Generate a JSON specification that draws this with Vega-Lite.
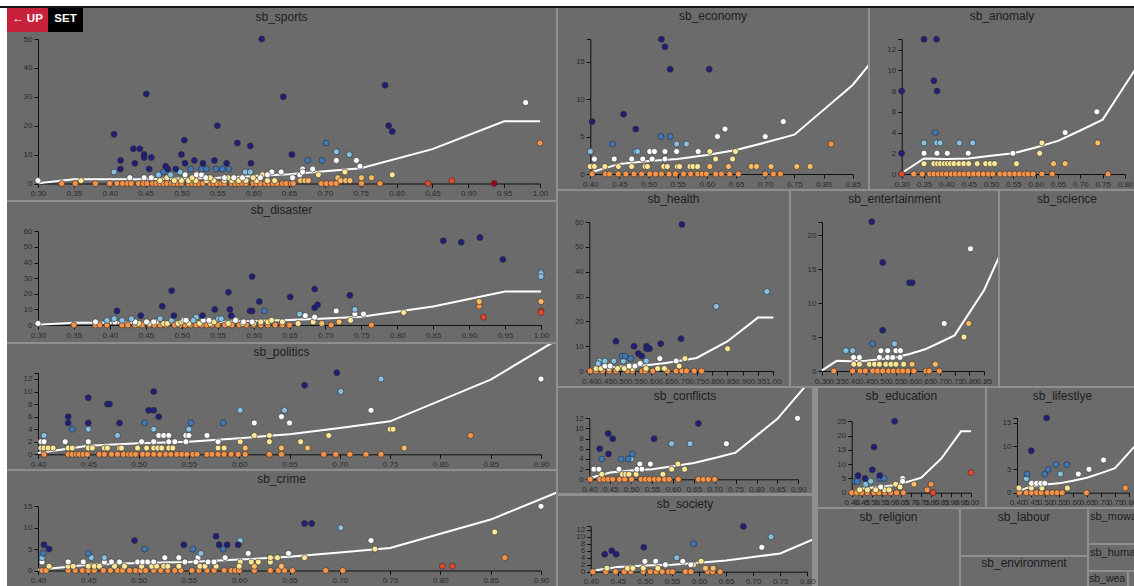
{
"$schema": "https://vega.github.io/schema/vega-lite/v6.json",
"background": "#8f8f8f",
"padding": 0,
"config": {
 "view": {"stroke": null, "fill": "#6b6b6b"},
 "axis": {"grid": false, "title": null, "domainColor": "#111111", "tickColor": "#111111", "labelColor": "#2b2b2b", "labelFontSize": 8, "labelFont": "Liberation Sans", "tickSize": 4, "labelPadding": 2, "labelOverlap": false, "labelFlush": false, "labelBound": false, "domainWidth": 1, "tickWidth": 1},
 "title": {"font": "Liberation Sans", "fontSize": 12, "fontWeight": "normal", "color": "#1e1e1e", "anchor": "middle", "frame": "group", "offset": -15, "orient": "top"},
 "concat": {"spacing": 2}
},
"datasets": {
 "line30": [{"x":0.3,"y":0.1},{"x":0.35,"y":1.5},{"x":0.4,"y":1.45},{"x":0.45,"y":1.5},{"x":0.5,"y":1.75},{"x":0.55,"y":2.0},{"x":0.6,"y":2.55},{"x":0.65,"y":3.2},{"x":0.7,"y":4.2},{"x":0.75,"y":5.25},{"x":0.85,"y":11.9},{"x":0.95,"y":21.5},{"x":1.0,"y":21.5}],
 "line40": [{"x":0.4,"y":0.2},{"x":0.45,"y":1.35},{"x":0.5,"y":1.75},{"x":0.55,"y":2.0},{"x":0.6,"y":2.55},{"x":0.65,"y":3.2},{"x":0.7,"y":4.2},{"x":0.75,"y":5.25},{"x":0.85,"y":11.9},{"x":0.95,"y":21.5},{"x":1.0,"y":21.5}],
 "sports": [
  {"x":0.333,"y":0,"c":"r"},{"x":0.352,"y":0,"c":"r"},{"x":0.38,"y":0,"c":"r"},{"x":0.4,"y":0,"c":"r"},{"x":0.41,"y":0,"c":"r"},{"x":0.418,"y":0,"c":"r"},{"x":0.425,"y":0,"c":"r"},{"x":0.43,"y":0,"c":"r"},{"x":0.44,"y":0,"c":"r"},{"x":0.447,"y":0,"c":"r"},{"x":0.452,"y":0,"c":"r"},{"x":0.46,"y":0,"c":"r"},{"x":0.465,"y":0,"c":"r"},{"x":0.47,"y":0,"c":"r"},{"x":0.475,"y":0,"c":"r"},{"x":0.48,"y":0,"c":"r"},{"x":0.486,"y":0,"c":"r"},{"x":0.49,"y":0,"c":"r"},{"x":0.495,"y":0,"c":"r"},{"x":0.5,"y":0,"c":"r"},{"x":0.51,"y":0,"c":"r"},{"x":0.515,"y":0,"c":"r"},{"x":0.52,"y":0,"c":"r"},{"x":0.525,"y":0,"c":"r"},{"x":0.53,"y":0,"c":"r"},{"x":0.54,"y":0,"c":"r"},{"x":0.545,"y":0,"c":"r"},{"x":0.55,"y":0,"c":"r"},{"x":0.556,"y":0,"c":"r"},{"x":0.56,"y":0,"c":"r"},{"x":0.57,"y":0,"c":"r"},{"x":0.575,"y":0,"c":"r"},{"x":0.58,"y":0,"c":"r"},{"x":0.585,"y":0,"c":"r"},{"x":0.59,"y":0,"c":"r"},{"x":0.6,"y":0,"c":"r"},{"x":0.605,"y":0,"c":"r"},{"x":0.61,"y":0,"c":"r"},{"x":0.617,"y":0,"c":"r"},{"x":0.622,"y":0,"c":"r"},{"x":0.628,"y":0,"c":"r"},{"x":0.633,"y":0,"c":"r"},{"x":0.641,"y":0,"c":"r"},{"x":0.646,"y":0,"c":"r"},{"x":0.653,"y":0,"c":"r"},{"x":0.656,"y":0,"c":"r"},{"x":0.695,"y":0,"c":"r"},{"x":0.702,"y":0,"c":"r"},{"x":0.709,"y":0,"c":"r"},{"x":0.716,"y":0,"c":"r"},{"x":0.751,"y":0,"c":"r"},{"x":0.777,"y":0,"c":"r"},
  {"x":0.718,"y":2,"c":"o"},{"x":0.751,"y":2,"c":"o"},{"x":0.765,"y":2,"c":"o"},{"x":0.666,"y":1,"c":"o"},{"x":0.672,"y":1,"c":"o"},{"x":0.677,"y":1,"c":"o"},{"x":0.722,"y":1,"c":"o"},{"x":0.729,"y":1,"c":"o"},{"x":0.735,"y":1,"c":"o"},
  {"x":0.36,"y":1,"c":"y"},{"x":0.47,"y":1,"c":"y"},{"x":0.49,"y":1,"c":"y"},{"x":0.5,"y":1,"c":"y"},{"x":0.51,"y":1,"c":"y"},{"x":0.52,"y":1,"c":"y"},{"x":0.535,"y":1,"c":"y"},{"x":0.545,"y":1,"c":"y"},{"x":0.56,"y":1,"c":"y"},{"x":0.57,"y":1,"c":"y"},{"x":0.58,"y":1,"c":"y"},{"x":0.59,"y":1,"c":"y"},{"x":0.605,"y":1,"c":"y"},{"x":0.62,"y":1,"c":"y"},{"x":0.63,"y":1,"c":"y"},{"x":0.48,"y":2,"c":"y"},{"x":0.515,"y":2,"c":"y"},{"x":0.54,"y":2,"c":"y"},{"x":0.565,"y":2,"c":"y"},{"x":0.6,"y":2,"c":"y"},{"x":0.613,"y":3,"c":"y"},{"x":0.691,"y":3,"c":"y"},{"x":0.728,"y":4,"c":"y"},{"x":0.794,"y":3,"c":"y"},
  {"x":0.3,"y":1,"c":"w"},{"x":0.428,"y":2,"c":"w"},{"x":0.448,"y":2,"c":"w"},{"x":0.458,"y":2,"c":"w"},{"x":0.505,"y":3,"c":"w"},{"x":0.521,"y":3,"c":"w"},{"x":0.528,"y":3,"c":"w"},{"x":0.534,"y":2,"c":"w"},{"x":0.573,"y":2,"c":"w"},{"x":0.626,"y":4,"c":"w"},{"x":0.56,"y":2,"c":"w"},{"x":0.585,"y":2,"c":"w"},{"x":0.61,"y":2,"c":"w"},{"x":0.62,"y":3,"c":"w"},{"x":0.655,"y":2,"c":"w"},{"x":0.665,"y":3,"c":"w"},{"x":0.716,"y":8,"c":"w"},{"x":0.744,"y":8,"c":"w"},{"x":0.749,"y":6,"c":"w"},{"x":0.669,"y":5,"c":"w"},{"x":0.683,"y":5,"c":"w"},{"x":0.669,"y":4,"c":"w"},{"x":0.639,"y":4,"c":"w"},{"x":0.98,"y":28,"c":"w"},
  {"x":0.406,"y":4,"c":"l"},{"x":0.468,"y":3,"c":"l"},{"x":0.485,"y":3,"c":"l"},{"x":0.498,"y":4,"c":"l"},{"x":0.589,"y":4,"c":"l"},{"x":0.596,"y":4,"c":"l"},{"x":0.716,"y":11,"c":"l"},{"x":0.734,"y":10,"c":"l"},
  {"x":0.475,"y":4,"c":"b"},{"x":0.513,"y":5,"c":"b"},{"x":0.528,"y":5,"c":"b"},{"x":0.535,"y":5,"c":"b"},{"x":0.548,"y":5,"c":"b"},{"x":0.557,"y":5,"c":"b"},{"x":0.566,"y":5,"c":"b"},{"x":0.676,"y":8,"c":"b"},{"x":0.702,"y":14,"c":"b"},{"x":0.696,"y":8,"c":"b"},
  {"x":0.406,"y":17,"c":"n"},{"x":0.415,"y":8,"c":"n"},{"x":0.415,"y":5,"c":"n"},{"x":0.433,"y":12,"c":"n"},{"x":0.442,"y":12,"c":"n"},{"x":0.435,"y":7,"c":"n"},{"x":0.448,"y":10,"c":"n"},{"x":0.448,"y":9,"c":"n"},{"x":0.451,"y":31,"c":"n"},{"x":0.458,"y":9,"c":"n"},{"x":0.455,"y":5,"c":"n"},{"x":0.478,"y":6,"c":"n"},{"x":0.481,"y":5,"c":"n"},{"x":0.492,"y":5,"c":"n"},{"x":0.5,"y":10,"c":"n"},{"x":0.504,"y":15,"c":"n"},{"x":0.505,"y":7,"c":"n"},{"x":0.518,"y":8,"c":"n"},{"x":0.53,"y":7,"c":"n"},{"x":0.546,"y":8,"c":"n"},{"x":0.55,"y":20,"c":"n"},{"x":0.563,"y":7,"c":"n"},{"x":0.578,"y":14,"c":"n"},{"x":0.596,"y":13,"c":"n"},{"x":0.597,"y":7,"c":"n"},{"x":0.612,"y":50,"c":"n"},{"x":0.642,"y":30,"c":"n"},{"x":0.654,"y":10,"c":"n"},{"x":0.784,"y":34,"c":"n"},{"x":0.789,"y":20,"c":"n"},{"x":0.794,"y":18,"c":"n"},
  {"x":1.0,"y":14,"c":"r"},{"x":0.844,"y":0,"c":"R"},{"x":0.877,"y":1,"c":"R"},{"x":0.936,"y":0,"c":"D"}
 ],
 "disaster": [
  {"x":0.35,"y":0,"c":"r"},{"x":0.38,"y":0,"c":"r"},{"x":0.386,"y":0,"c":"r"},{"x":0.396,"y":0,"c":"r"},{"x":0.417,"y":0,"c":"r"},{"x":0.425,"y":0,"c":"r"},{"x":0.435,"y":0,"c":"r"},{"x":0.445,"y":0,"c":"r"},{"x":0.455,"y":0,"c":"r"},{"x":0.462,"y":0,"c":"r"},{"x":0.47,"y":0,"c":"r"},{"x":0.478,"y":0,"c":"r"},{"x":0.49,"y":0,"c":"r"},{"x":0.498,"y":0,"c":"r"},{"x":0.505,"y":0,"c":"r"},{"x":0.512,"y":0,"c":"r"},{"x":0.52,"y":0,"c":"r"},{"x":0.528,"y":0,"c":"r"},{"x":0.535,"y":0,"c":"r"},{"x":0.542,"y":0,"c":"r"},{"x":0.55,"y":0,"c":"r"},{"x":0.56,"y":0,"c":"r"},{"x":0.57,"y":0,"c":"r"},{"x":0.58,"y":0,"c":"r"},{"x":0.59,"y":0,"c":"r"},{"x":0.6,"y":0,"c":"r"},{"x":0.61,"y":0,"c":"r"},{"x":0.62,"y":0,"c":"r"},{"x":0.63,"y":0,"c":"r"},{"x":0.64,"y":0,"c":"r"},{"x":0.65,"y":0,"c":"r"},{"x":0.708,"y":0,"c":"r"},{"x":0.764,"y":0,"c":"r"},{"x":0.914,"y":12,"c":"r"},
  {"x":1.0,"y":15,"c":"o"},{"x":0.914,"y":15,"c":"o"},{"x":0.695,"y":1,"c":"o"},{"x":0.719,"y":2,"c":"o"},
  {"x":0.809,"y":8,"c":"y"},{"x":0.683,"y":2,"c":"y"},{"x":0.735,"y":3,"c":"y"},{"x":0.44,"y":1,"c":"y"},{"x":0.455,"y":1,"c":"y"},{"x":0.465,"y":2,"c":"y"},{"x":0.475,"y":1,"c":"y"},{"x":0.48,"y":1,"c":"y"},{"x":0.495,"y":1,"c":"y"},{"x":0.5,"y":2,"c":"y"},{"x":0.51,"y":1,"c":"y"},{"x":0.525,"y":1,"c":"y"},{"x":0.54,"y":1,"c":"y"},{"x":0.545,"y":2,"c":"y"},{"x":0.565,"y":1,"c":"y"},{"x":0.585,"y":1,"c":"y"},{"x":0.6,"y":1,"c":"y"},{"x":0.61,"y":2,"c":"y"},{"x":0.62,"y":2,"c":"y"},{"x":0.625,"y":3,"c":"y"},{"x":0.64,"y":2,"c":"y"},{"x":0.662,"y":1,"c":"y"},
  {"x":0.715,"y":9,"c":"w"},{"x":0.741,"y":7,"c":"w"},{"x":0.753,"y":7,"c":"w"},{"x":0.672,"y":6,"c":"w"},{"x":0.685,"y":5,"c":"w"},{"x":0.3,"y":1,"c":"w"},{"x":0.38,"y":2,"c":"w"},{"x":0.407,"y":2,"c":"w"},{"x":0.435,"y":2,"c":"w"},{"x":0.451,"y":2,"c":"w"},{"x":0.461,"y":2,"c":"w"},{"x":0.503,"y":3,"c":"w"},{"x":0.506,"y":3,"c":"w"},{"x":0.53,"y":3,"c":"w"},{"x":0.538,"y":3,"c":"w"},{"x":0.575,"y":3,"c":"w"},{"x":0.598,"y":2,"c":"w"},{"x":0.586,"y":2,"c":"w"},
  {"x":1.0,"y":34,"c":"l"},{"x":1.0,"y":33,"c":"l"},{"x":1.0,"y":31,"c":"l"},{"x":0.741,"y":10,"c":"l"},{"x":0.664,"y":7,"c":"l"},{"x":0.52,"y":5,"c":"l"},{"x":0.551,"y":4,"c":"l"},{"x":0.516,"y":3,"c":"l"},{"x":0.396,"y":3,"c":"l"},{"x":0.406,"y":4,"c":"l"},{"x":0.417,"y":3,"c":"l"},{"x":0.43,"y":4,"c":"l"},{"x":0.47,"y":4,"c":"l"},{"x":0.486,"y":3,"c":"l"},{"x":0.555,"y":4,"c":"l"},
  {"x":0.615,"y":9,"c":"b"},
  {"x":0.41,"y":9,"c":"n"},{"x":0.443,"y":6,"c":"n"},{"x":0.473,"y":12,"c":"n"},{"x":0.486,"y":22,"c":"n"},{"x":0.489,"y":6,"c":"n"},{"x":0.529,"y":6,"c":"n"},{"x":0.546,"y":10,"c":"n"},{"x":0.565,"y":21,"c":"n"},{"x":0.567,"y":10,"c":"n"},{"x":0.569,"y":6,"c":"n"},{"x":0.595,"y":9,"c":"n"},{"x":0.598,"y":9,"c":"n"},{"x":0.598,"y":31,"c":"n"},{"x":0.608,"y":15,"c":"n"},{"x":0.651,"y":18,"c":"n"},{"x":0.685,"y":23,"c":"n"},{"x":0.685,"y":11,"c":"n"},{"x":0.689,"y":13,"c":"n"},{"x":0.734,"y":19,"c":"n"},{"x":0.864,"y":54,"c":"n"},{"x":0.889,"y":53,"c":"n"},{"x":0.915,"y":56,"c":"n"},{"x":0.947,"y":42,"c":"n"},
  {"x":1.0,"y":9,"c":"R"},{"x":1.0,"y":8,"c":"R"},{"x":0.92,"y":5,"c":"R"}
 ],
 "politics": [
  {"x":0.406,"y":0,"c":"r"},{"x":0.43,"y":0,"c":"r"},{"x":0.434,"y":0,"c":"r"},{"x":0.438,"y":0,"c":"r"},{"x":0.441,"y":0,"c":"r"},{"x":0.445,"y":0,"c":"r"},{"x":0.449,"y":0,"c":"r"},{"x":0.461,"y":0,"c":"r"},{"x":0.466,"y":0,"c":"r"},{"x":0.473,"y":0,"c":"r"},{"x":0.479,"y":0,"c":"r"},{"x":0.485,"y":0,"c":"r"},{"x":0.49,"y":0,"c":"r"},{"x":0.493,"y":0,"c":"r"},{"x":0.497,"y":0,"c":"r"},{"x":0.504,"y":0,"c":"r"},{"x":0.509,"y":0,"c":"r"},{"x":0.515,"y":0,"c":"r"},{"x":0.521,"y":0,"c":"r"},{"x":0.527,"y":0,"c":"r"},{"x":0.532,"y":0,"c":"r"},{"x":0.538,"y":0,"c":"r"},{"x":0.543,"y":0,"c":"r"},{"x":0.548,"y":0,"c":"r"},{"x":0.554,"y":0,"c":"r"},{"x":0.558,"y":0,"c":"r"},{"x":0.568,"y":0,"c":"r"},{"x":0.573,"y":0,"c":"r"},{"x":0.579,"y":0,"c":"r"},{"x":0.585,"y":0,"c":"r"},{"x":0.592,"y":0,"c":"r"},{"x":0.599,"y":0,"c":"r"},{"x":0.606,"y":0,"c":"r"},{"x":0.63,"y":0,"c":"r"},{"x":0.642,"y":0,"c":"r"},{"x":0.684,"y":0,"c":"r"},{"x":0.696,"y":0,"c":"r"},{"x":0.71,"y":0,"c":"r"},{"x":0.726,"y":0,"c":"r"},{"x":0.741,"y":0,"c":"r"},{"x":0.83,"y":3,"c":"r"},
  {"x":0.606,"y":1,"c":"o"},{"x":0.642,"y":1,"c":"o"},{"x":0.668,"y":1,"c":"o"},{"x":0.764,"y":1,"c":"o"},
  {"x":0.403,"y":1,"c":"y"},{"x":0.406,"y":1,"c":"y"},{"x":0.41,"y":1,"c":"y"},{"x":0.415,"y":1,"c":"y"},{"x":0.43,"y":1,"c":"y"},{"x":0.434,"y":1,"c":"y"},{"x":0.45,"y":1,"c":"y"},{"x":0.454,"y":1,"c":"y"},{"x":0.466,"y":1,"c":"y"},{"x":0.469,"y":1,"c":"y"},{"x":0.481,"y":1,"c":"y"},{"x":0.483,"y":1,"c":"y"},{"x":0.499,"y":1,"c":"y"},{"x":0.508,"y":1,"c":"y"},{"x":0.515,"y":1,"c":"y"},{"x":0.519,"y":1,"c":"y"},{"x":0.523,"y":1,"c":"y"},{"x":0.53,"y":1,"c":"y"},{"x":0.534,"y":1,"c":"y"},{"x":0.579,"y":1,"c":"y"},{"x":0.585,"y":1,"c":"y"},{"x":0.601,"y":2,"c":"y"},{"x":0.615,"y":3,"c":"y"},{"x":0.63,"y":3,"c":"y"},{"x":0.63,"y":2,"c":"y"},{"x":0.661,"y":2,"c":"y"},{"x":0.689,"y":3,"c":"y"},{"x":0.75,"y":4,"c":"y"},{"x":0.753,"y":4,"c":"y"},
  {"x":0.403,"y":2,"c":"w"},{"x":0.406,"y":2,"c":"w"},{"x":0.427,"y":2,"c":"w"},{"x":0.45,"y":2,"c":"w"},{"x":0.503,"y":2,"c":"w"},{"x":0.515,"y":2,"c":"w"},{"x":0.52,"y":3,"c":"w"},{"x":0.525,"y":3,"c":"w"},{"x":0.53,"y":3,"c":"w"},{"x":0.53,"y":2,"c":"w"},{"x":0.536,"y":2,"c":"w"},{"x":0.547,"y":2,"c":"w"},{"x":0.547,"y":3,"c":"w"},{"x":0.55,"y":3,"c":"w"},{"x":0.568,"y":3,"c":"w"},{"x":0.579,"y":2,"c":"w"},{"x":0.615,"y":5,"c":"w"},{"x":0.642,"y":6,"c":"w"},{"x":0.65,"y":5,"c":"w"},{"x":0.731,"y":7,"c":"w"},{"x":0.9,"y":12,"c":"w"},
  {"x":0.406,"y":3,"c":"l"},{"x":0.45,"y":4,"c":"l"},{"x":0.479,"y":3,"c":"l"},{"x":0.515,"y":4,"c":"l"},{"x":0.55,"y":4,"c":"l"},{"x":0.601,"y":7,"c":"l"},{"x":0.645,"y":7,"c":"l"},{"x":0.701,"y":10,"c":"l"},{"x":0.741,"y":12,"c":"l"},
  {"x":0.434,"y":4,"c":"b"},{"x":0.506,"y":5,"c":"b"},{"x":0.552,"y":5,"c":"b"},{"x":0.584,"y":5,"c":"b"},
  {"x":0.43,"y":6,"c":"n"},{"x":0.43,"y":5,"c":"n"},{"x":0.45,"y":9,"c":"n"},{"x":0.45,"y":5,"c":"n"},{"x":0.469,"y":8,"c":"n"},{"x":0.471,"y":8,"c":"n"},{"x":0.481,"y":5,"c":"n"},{"x":0.51,"y":7,"c":"n"},{"x":0.515,"y":7,"c":"n"},{"x":0.515,"y":10,"c":"n"},{"x":0.52,"y":6,"c":"n"},{"x":0.665,"y":11,"c":"n"},{"x":0.697,"y":13,"c":"n"}
 ],
 "crime": [
  {"x":0.404,"y":0,"c":"r"},{"x":0.408,"y":0,"c":"r"},{"x":0.43,"y":0,"c":"r"},{"x":0.437,"y":0,"c":"r"},{"x":0.444,"y":0,"c":"r"},{"x":0.45,"y":0,"c":"r"},{"x":0.456,"y":0,"c":"r"},{"x":0.465,"y":0,"c":"r"},{"x":0.472,"y":0,"c":"r"},{"x":0.479,"y":0,"c":"r"},{"x":0.484,"y":0,"c":"r"},{"x":0.491,"y":0,"c":"r"},{"x":0.497,"y":0,"c":"r"},{"x":0.502,"y":0,"c":"r"},{"x":0.507,"y":0,"c":"r"},{"x":0.515,"y":0,"c":"r"},{"x":0.522,"y":0,"c":"r"},{"x":0.529,"y":0,"c":"r"},{"x":0.536,"y":0,"c":"r"},{"x":0.542,"y":0,"c":"r"},{"x":0.553,"y":0,"c":"r"},{"x":0.56,"y":0,"c":"r"},{"x":0.568,"y":0,"c":"r"},{"x":0.575,"y":0,"c":"r"},{"x":0.585,"y":0,"c":"r"},{"x":0.592,"y":0,"c":"r"},{"x":0.596,"y":0,"c":"r"},{"x":0.6,"y":0,"c":"r"},{"x":0.615,"y":0,"c":"r"},{"x":0.631,"y":0,"c":"r"},{"x":0.639,"y":0,"c":"r"},{"x":0.645,"y":0,"c":"r"},{"x":0.653,"y":0,"c":"r"},{"x":0.686,"y":0,"c":"r"},{"x":0.703,"y":0,"c":"r"},{"x":0.864,"y":3,"c":"r"},
  {"x":0.615,"y":1,"c":"o"},{"x":0.642,"y":1,"c":"o"},
  {"x":0.411,"y":1,"c":"y"},{"x":0.43,"y":1,"c":"y"},{"x":0.435,"y":1,"c":"y"},{"x":0.45,"y":1,"c":"y"},{"x":0.456,"y":1,"c":"y"},{"x":0.461,"y":1,"c":"y"},{"x":0.476,"y":1,"c":"y"},{"x":0.486,"y":1,"c":"y"},{"x":0.503,"y":1,"c":"y"},{"x":0.513,"y":1,"c":"y"},{"x":0.518,"y":1,"c":"y"},{"x":0.525,"y":1,"c":"y"},{"x":0.529,"y":1,"c":"y"},{"x":0.54,"y":1,"c":"y"},{"x":0.561,"y":1,"c":"y"},{"x":0.566,"y":1,"c":"y"},{"x":0.577,"y":1,"c":"y"},{"x":0.601,"y":2,"c":"y"},{"x":0.6,"y":1,"c":"y"},{"x":0.612,"y":2,"c":"y"},{"x":0.619,"y":2,"c":"y"},{"x":0.631,"y":2,"c":"y"},{"x":0.631,"y":3,"c":"y"},{"x":0.638,"y":3,"c":"y"},{"x":0.665,"y":3,"c":"y"},{"x":0.735,"y":5,"c":"y"},{"x":0.854,"y":9,"c":"y"},
  {"x":0.404,"y":2,"c":"w"},{"x":0.43,"y":2,"c":"w"},{"x":0.445,"y":2,"c":"w"},{"x":0.466,"y":2,"c":"w"},{"x":0.473,"y":2,"c":"w"},{"x":0.481,"y":2,"c":"w"},{"x":0.499,"y":2,"c":"w"},{"x":0.504,"y":2,"c":"w"},{"x":0.509,"y":2,"c":"w"},{"x":0.515,"y":2,"c":"w"},{"x":0.526,"y":3,"c":"w"},{"x":0.54,"y":3,"c":"w"},{"x":0.546,"y":2,"c":"w"},{"x":0.559,"y":3,"c":"w"},{"x":0.557,"y":2,"c":"w"},{"x":0.569,"y":2,"c":"w"},{"x":0.575,"y":2,"c":"w"},{"x":0.586,"y":3,"c":"w"},{"x":0.609,"y":4,"c":"w"},{"x":0.649,"y":4,"c":"w"},{"x":0.731,"y":7,"c":"w"},{"x":0.9,"y":15,"c":"w"},
  {"x":0.404,"y":3,"c":"l"},{"x":0.453,"y":3,"c":"l"},{"x":0.466,"y":3,"c":"l"},{"x":0.562,"y":4,"c":"l"},{"x":0.601,"y":7,"c":"l"},{"x":0.701,"y":10,"c":"l"},
  {"x":0.405,"y":4,"c":"b"},{"x":0.45,"y":4,"c":"b"},{"x":0.506,"y":5,"c":"b"},{"x":0.554,"y":5,"c":"b"},{"x":0.584,"y":5,"c":"b"},
  {"x":0.406,"y":6,"c":"n"},{"x":0.411,"y":5,"c":"n"},{"x":0.496,"y":7,"c":"n"},{"x":0.545,"y":6,"c":"n"},{"x":0.577,"y":8,"c":"n"},{"x":0.58,"y":6,"c":"n"},{"x":0.588,"y":6,"c":"n"},{"x":0.599,"y":6,"c":"n"},{"x":0.665,"y":11,"c":"n"},{"x":0.672,"y":11,"c":"n"},
  {"x":0.802,"y":1,"c":"R"},{"x":0.812,"y":1,"c":"R"}
 ],
 "economy": [
  {"x":0.403,"y":0,"c":"r"},{"x":0.426,"y":0,"c":"r"},{"x":0.433,"y":0,"c":"r"},{"x":0.448,"y":0,"c":"r"},{"x":0.461,"y":0,"c":"r"},{"x":0.475,"y":0,"c":"r"},{"x":0.488,"y":0,"c":"r"},{"x":0.502,"y":0,"c":"r"},{"x":0.512,"y":0,"c":"r"},{"x":0.522,"y":0,"c":"r"},{"x":0.535,"y":0,"c":"r"},{"x":0.546,"y":0,"c":"r"},{"x":0.56,"y":0,"c":"r"},{"x":0.572,"y":0,"c":"r"},{"x":0.584,"y":0,"c":"r"},{"x":0.592,"y":0,"c":"r"},{"x":0.599,"y":0,"c":"r"},{"x":0.615,"y":0,"c":"r"},{"x":0.625,"y":0,"c":"r"},{"x":0.639,"y":0,"c":"r"},{"x":0.654,"y":0,"c":"r"},{"x":0.7,"y":0,"c":"r"},{"x":0.714,"y":0,"c":"r"},{"x":0.726,"y":0,"c":"r"},{"x":0.813,"y":4,"c":"r"},
  {"x":0.605,"y":1,"c":"o"},{"x":0.637,"y":1,"c":"o"},{"x":0.676,"y":1,"c":"o"},{"x":0.685,"y":1,"c":"o"},{"x":0.71,"y":1,"c":"o"},{"x":0.754,"y":1,"c":"o"},{"x":0.777,"y":1,"c":"o"},
  {"x":0.4,"y":1,"c":"y"},{"x":0.407,"y":1,"c":"y"},{"x":0.425,"y":1,"c":"y"},{"x":0.448,"y":1,"c":"y"},{"x":0.471,"y":1,"c":"y"},{"x":0.494,"y":1,"c":"y"},{"x":0.498,"y":1,"c":"y"},{"x":0.526,"y":1,"c":"y"},{"x":0.532,"y":1,"c":"y"},{"x":0.549,"y":1,"c":"y"},{"x":0.553,"y":1,"c":"y"},{"x":0.571,"y":1,"c":"y"},{"x":0.576,"y":1,"c":"y"},{"x":0.584,"y":1,"c":"y"},{"x":0.605,"y":3,"c":"y"},{"x":0.615,"y":2,"c":"y"},{"x":0.644,"y":2,"c":"y"},{"x":0.649,"y":3,"c":"y"},
  {"x":0.407,"y":2,"c":"w"},{"x":0.441,"y":2,"c":"w"},{"x":0.471,"y":2,"c":"w"},{"x":0.49,"y":2,"c":"w"},{"x":0.502,"y":3,"c":"w"},{"x":0.51,"y":3,"c":"w"},{"x":0.506,"y":2,"c":"w"},{"x":0.528,"y":3,"c":"w"},{"x":0.528,"y":2,"c":"w"},{"x":0.548,"y":3,"c":"w"},{"x":0.585,"y":3,"c":"w"},{"x":0.618,"y":5,"c":"w"},{"x":0.631,"y":6,"c":"w"},{"x":0.7,"y":5,"c":"w"},{"x":0.731,"y":7,"c":"w"},
  {"x":0.4,"y":3,"c":"l"},{"x":0.478,"y":3,"c":"l"},{"x":0.481,"y":3,"c":"l"},{"x":0.548,"y":4,"c":"l"},{"x":0.565,"y":4,"c":"l"},
  {"x":0.438,"y":4,"c":"b"},{"x":0.521,"y":5,"c":"b"},{"x":0.537,"y":5,"c":"b"},
  {"x":0.403,"y":7,"c":"n"},{"x":0.457,"y":8,"c":"n"},{"x":0.478,"y":6,"c":"n"},{"x":0.522,"y":18,"c":"n"},{"x":0.528,"y":17,"c":"n"},{"x":0.537,"y":14,"c":"n"},{"x":0.604,"y":14,"c":"n"}
 ],
 "anomaly": [
  {"x":0.327,"y":0,"c":"r"},{"x":0.346,"y":0,"c":"r"},{"x":0.363,"y":0,"c":"r"},{"x":0.372,"y":0,"c":"r"},{"x":0.382,"y":0,"c":"r"},{"x":0.391,"y":0,"c":"r"},{"x":0.4,"y":0,"c":"r"},{"x":0.411,"y":0,"c":"r"},{"x":0.42,"y":0,"c":"r"},{"x":0.43,"y":0,"c":"r"},{"x":0.44,"y":0,"c":"r"},{"x":0.45,"y":0,"c":"r"},{"x":0.461,"y":0,"c":"r"},{"x":0.472,"y":0,"c":"r"},{"x":0.483,"y":0,"c":"r"},{"x":0.494,"y":0,"c":"r"},{"x":0.504,"y":0,"c":"r"},{"x":0.52,"y":0,"c":"r"},{"x":0.531,"y":0,"c":"r"},{"x":0.542,"y":0,"c":"r"},{"x":0.553,"y":0,"c":"r"},{"x":0.564,"y":0,"c":"r"},{"x":0.575,"y":0,"c":"r"},{"x":0.583,"y":0,"c":"r"},{"x":0.594,"y":0,"c":"r"},{"x":0.614,"y":0,"c":"r"},{"x":0.637,"y":0,"c":"r"},{"x":0.762,"y":0,"c":"r"},
  {"x":0.64,"y":1,"c":"o"},{"x":0.666,"y":1,"c":"o"},{"x":0.739,"y":3,"c":"o"},
  {"x":0.35,"y":1,"c":"y"},{"x":0.372,"y":1,"c":"y"},{"x":0.38,"y":1,"c":"y"},{"x":0.387,"y":1,"c":"y"},{"x":0.395,"y":1,"c":"y"},{"x":0.402,"y":1,"c":"y"},{"x":0.409,"y":1,"c":"y"},{"x":0.417,"y":1,"c":"y"},{"x":0.428,"y":1,"c":"y"},{"x":0.439,"y":1,"c":"y"},{"x":0.45,"y":1,"c":"y"},{"x":0.469,"y":1,"c":"y"},{"x":0.488,"y":1,"c":"y"},{"x":0.498,"y":1,"c":"y"},{"x":0.508,"y":1,"c":"y"},{"x":0.557,"y":1,"c":"y"},{"x":0.609,"y":2,"c":"y"},{"x":0.614,"y":3,"c":"y"},
  {"x":0.35,"y":2,"c":"w"},{"x":0.379,"y":2,"c":"w"},{"x":0.402,"y":2,"c":"w"},{"x":0.449,"y":2,"c":"w"},{"x":0.549,"y":2,"c":"w"},{"x":0.666,"y":4,"c":"w"},{"x":0.737,"y":6,"c":"w"},
  {"x":0.35,"y":3,"c":"l"},{"x":0.378,"y":3,"c":"l"},{"x":0.386,"y":3,"c":"l"},{"x":0.429,"y":3,"c":"l"},{"x":0.459,"y":3,"c":"l"},
  {"x":0.375,"y":4,"c":"b"},
  {"x":0.3,"y":8,"c":"n"},{"x":0.3,"y":2,"c":"n"},{"x":0.35,"y":13,"c":"n"},{"x":0.378,"y":13,"c":"n"},{"x":0.372,"y":9,"c":"n"},{"x":0.379,"y":8,"c":"n"},
  {"x":0.3,"y":0,"c":"R"}
 ],
 "health": [
  {"x":0.403,"y":0,"c":"r"},{"x":0.422,"y":0,"c":"r"},{"x":0.443,"y":0,"c":"r"},{"x":0.465,"y":0,"c":"r"},{"x":0.487,"y":0,"c":"r"},{"x":0.525,"y":0,"c":"r"},{"x":0.541,"y":0,"c":"r"},{"x":0.572,"y":0,"c":"r"},{"x":0.583,"y":0,"c":"r"},{"x":0.607,"y":0,"c":"r"},{"x":0.655,"y":0,"c":"r"},{"x":0.683,"y":0,"c":"r"},{"x":0.702,"y":0,"c":"r"},{"x":0.717,"y":0,"c":"r"},{"x":0.742,"y":0,"c":"r"},{"x":0.766,"y":0,"c":"r"},
  {"x":0.851,"y":9,"c":"y"},{"x":0.712,"y":5,"c":"y"},{"x":0.693,"y":2,"c":"y"},{"x":0.422,"y":1,"c":"y"},{"x":0.438,"y":1,"c":"y"},{"x":0.465,"y":1,"c":"y"},{"x":0.492,"y":1,"c":"y"},{"x":0.514,"y":1,"c":"y"},{"x":0.541,"y":1,"c":"y"},{"x":0.585,"y":1,"c":"y"},{"x":0.623,"y":1,"c":"y"},{"x":0.645,"y":1,"c":"y"},
  {"x":0.451,"y":2,"c":"w"},{"x":0.468,"y":2,"c":"w"},{"x":0.53,"y":2,"c":"w"},{"x":0.549,"y":2,"c":"w"},{"x":0.566,"y":3,"c":"w"},{"x":0.63,"y":5,"c":"w"},{"x":0.683,"y":4,"c":"w"},
  {"x":0.979,"y":32,"c":"l"},{"x":0.814,"y":26,"c":"l"},{"x":0.433,"y":4,"c":"l"},{"x":0.451,"y":4,"c":"l"},{"x":0.48,"y":4,"c":"l"},{"x":0.511,"y":4,"c":"l"},{"x":0.586,"y":4,"c":"l"},{"x":0.429,"y":3,"c":"l"},
  {"x":0.507,"y":6,"c":"b"},{"x":0.517,"y":6,"c":"b"},{"x":0.535,"y":5,"c":"b"},
  {"x":0.702,"y":59,"c":"n"},{"x":0.487,"y":12,"c":"n"},{"x":0.546,"y":10,"c":"n"},{"x":0.587,"y":10,"c":"n"},{"x":0.587,"y":9,"c":"n"},{"x":0.596,"y":9,"c":"n"},{"x":0.56,"y":7,"c":"n"},{"x":0.571,"y":6,"c":"n"},{"x":0.633,"y":11,"c":"n"},{"x":0.699,"y":13,"c":"n"}
 ],
 "entertainment": [
  {"x":0.34,"y":0,"c":"r"},{"x":0.404,"y":0,"c":"r"},{"x":0.429,"y":0,"c":"r"},{"x":0.447,"y":0,"c":"r"},{"x":0.472,"y":0,"c":"r"},{"x":0.489,"y":0,"c":"r"},{"x":0.506,"y":0,"c":"r"},{"x":0.526,"y":0,"c":"r"},{"x":0.542,"y":0,"c":"r"},{"x":0.56,"y":0,"c":"r"},{"x":0.574,"y":0,"c":"r"},{"x":0.592,"y":0,"c":"r"},{"x":0.612,"y":0,"c":"r"},{"x":0.653,"y":0,"c":"r"},{"x":0.664,"y":0,"c":"r"},{"x":0.698,"y":0,"c":"r"},
  {"x":0.798,"y":7,"c":"o"},{"x":0.606,"y":1,"c":"o"},{"x":0.685,"y":1,"c":"o"},
  {"x":0.782,"y":5,"c":"y"},{"x":0.408,"y":1,"c":"y"},{"x":0.427,"y":1,"c":"y"},{"x":0.461,"y":1,"c":"y"},{"x":0.478,"y":1,"c":"y"},{"x":0.495,"y":1,"c":"y"},{"x":0.517,"y":1,"c":"y"},{"x":0.534,"y":1,"c":"y"},{"x":0.551,"y":1,"c":"y"},{"x":0.577,"y":1,"c":"y"},
  {"x":0.804,"y":18,"c":"w"},{"x":0.715,"y":7,"c":"w"},{"x":0.5,"y":3,"c":"w"},{"x":0.523,"y":3,"c":"w"},{"x":0.551,"y":3,"c":"w"},{"x":0.566,"y":3,"c":"w"},{"x":0.407,"y":2,"c":"w"},{"x":0.427,"y":2,"c":"w"},{"x":0.495,"y":2,"c":"w"},{"x":0.523,"y":2,"c":"w"},{"x":0.54,"y":2,"c":"w"},{"x":0.565,"y":2,"c":"w"},
  {"x":0.546,"y":4,"c":"l"},{"x":0.381,"y":3,"c":"l"},{"x":0.404,"y":3,"c":"l"},
  {"x":0.472,"y":4,"c":"b"},
  {"x":0.469,"y":22,"c":"n"},{"x":0.506,"y":16,"c":"n"},{"x":0.597,"y":13,"c":"n"},{"x":0.606,"y":13,"c":"n"},{"x":0.506,"y":6,"c":"n"}
 ],
 "conflicts": [
  {"x":0.402,"y":0,"c":"r"},{"x":0.425,"y":0,"c":"r"},{"x":0.435,"y":0,"c":"r"},{"x":0.445,"y":0,"c":"r"},{"x":0.456,"y":0,"c":"r"},{"x":0.472,"y":0,"c":"r"},{"x":0.485,"y":0,"c":"r"},{"x":0.501,"y":0,"c":"r"},{"x":0.524,"y":0,"c":"r"},{"x":0.534,"y":0,"c":"r"},{"x":0.544,"y":0,"c":"r"},{"x":0.556,"y":0,"c":"r"},{"x":0.566,"y":0,"c":"r"},{"x":0.58,"y":0,"c":"r"},{"x":0.591,"y":0,"c":"r"},{"x":0.613,"y":0,"c":"r"},{"x":0.661,"y":0,"c":"r"},{"x":0.673,"y":0,"c":"r"},{"x":0.685,"y":0,"c":"r"},{"x":0.7,"y":0,"c":"r"},
  {"x":0.43,"y":1,"c":"y"},{"x":0.479,"y":1,"c":"y"},{"x":0.487,"y":1,"c":"y"},{"x":0.495,"y":1,"c":"y"},{"x":0.512,"y":1,"c":"y"},{"x":0.576,"y":1,"c":"y"},{"x":0.597,"y":2,"c":"y"},{"x":0.612,"y":3,"c":"y"},{"x":0.628,"y":2,"c":"y"},
  {"x":0.898,"y":12,"c":"w"},{"x":0.728,"y":7,"c":"w"},{"x":0.411,"y":2,"c":"w"},{"x":0.423,"y":2,"c":"w"},{"x":0.471,"y":2,"c":"w"},{"x":0.521,"y":3,"c":"w"},{"x":0.514,"y":2,"c":"w"},{"x":0.526,"y":2,"c":"w"},{"x":0.546,"y":3,"c":"w"},
  {"x":0.641,"y":7,"c":"l"},{"x":0.597,"y":7,"c":"l"},{"x":0.5,"y":4,"c":"l"},
  {"x":0.43,"y":4,"c":"b"},{"x":0.476,"y":4,"c":"b"},{"x":0.493,"y":4,"c":"b"},{"x":0.503,"y":5,"c":"b"},
  {"x":0.661,"y":11,"c":"n"},{"x":0.555,"y":8,"c":"n"},{"x":0.425,"y":6,"c":"n"},{"x":0.445,"y":9,"c":"n"},{"x":0.456,"y":8,"c":"n"},{"x":0.446,"y":5,"c":"n"}
 ],
 "society": [
  {"x":0.404,"y":0,"c":"r"},{"x":0.428,"y":0,"c":"r"},{"x":0.446,"y":0,"c":"r"},{"x":0.462,"y":0,"c":"r"},{"x":0.474,"y":0,"c":"r"},{"x":0.497,"y":0,"c":"r"},{"x":0.51,"y":0,"c":"r"},{"x":0.521,"y":0,"c":"r"},{"x":0.532,"y":0,"c":"r"},{"x":0.544,"y":0,"c":"r"},{"x":0.551,"y":0,"c":"r"},{"x":0.575,"y":0,"c":"r"},{"x":0.585,"y":0,"c":"r"},{"x":0.616,"y":0,"c":"r"},{"x":0.625,"y":0,"c":"r"},{"x":0.639,"y":0,"c":"r"},
  {"x":0.612,"y":1,"c":"o"},{"x":0.626,"y":1,"c":"o"},
  {"x":0.604,"y":3,"c":"y"},{"x":0.59,"y":2,"c":"y"},{"x":0.43,"y":1,"c":"y"},{"x":0.468,"y":1,"c":"y"},{"x":0.478,"y":1,"c":"y"},{"x":0.497,"y":1,"c":"y"},{"x":0.524,"y":1,"c":"y"},
  {"x":0.716,"y":7,"c":"w"},{"x":0.57,"y":3,"c":"w"},{"x":0.5,"y":3,"c":"w"},{"x":0.52,"y":3,"c":"w"},{"x":0.538,"y":2,"c":"w"},{"x":0.585,"y":2,"c":"w"},
  {"x":0.733,"y":10,"c":"l"},{"x":0.559,"y":4,"c":"l"},
  {"x":0.59,"y":8,"c":"b"},
  {"x":0.682,"y":13,"c":"n"},{"x":0.426,"y":5,"c":"n"},{"x":0.439,"y":6,"c":"n"},{"x":0.447,"y":5,"c":"n"},{"x":0.498,"y":7,"c":"n"}
 ],
 "education": [
  {"x":0.4,"y":0,"c":"r"},{"x":0.425,"y":0,"c":"r"},{"x":0.45,"y":0,"c":"r"},{"x":0.479,"y":0,"c":"r"},{"x":0.512,"y":0,"c":"r"},{"x":0.537,"y":0,"c":"r"},{"x":0.566,"y":0,"c":"r"},{"x":0.596,"y":0,"c":"r"},{"x":0.626,"y":0,"c":"r"},{"x":0.66,"y":0,"c":"r"},{"x":0.799,"y":3,"c":"r"},{"x":0.779,"y":1,"c":"r"},
  {"x":0.713,"y":3,"c":"o"},
  {"x":0.621,"y":3,"c":"y"},{"x":0.643,"y":2,"c":"y"},{"x":0.44,"y":1,"c":"y"},{"x":0.479,"y":1,"c":"y"},{"x":0.521,"y":1,"c":"y"},{"x":0.566,"y":1,"c":"y"},{"x":0.588,"y":1,"c":"y"},
  {"x":0.546,"y":2,"c":"w"},{"x":0.656,"y":5,"c":"w"},{"x":0.656,"y":4,"c":"w"},
  {"x":0.47,"y":3,"c":"l"},{"x":0.496,"y":4,"c":"l"},
  {"x":0.417,"y":4,"c":"b"},{"x":0.428,"y":4,"c":"b"},{"x":0.542,"y":5,"c":"b"},{"x":0.563,"y":5,"c":"b"},
  {"x":0.616,"y":25,"c":"n"},{"x":0.512,"y":16,"c":"n"},{"x":0.504,"y":8,"c":"n"},{"x":0.432,"y":6,"c":"n"},{"x":0.467,"y":5,"c":"n"},{"x":0.541,"y":6,"c":"n"},
  {"x":0.809,"y":0,"c":"R"},{"x":1.0,"y":7,"c":"R"}
 ],
 "lifestyle": [
  {"x":0.409,"y":0,"c":"r"},{"x":0.433,"y":0,"c":"r"},{"x":0.452,"y":0,"c":"r"},{"x":0.47,"y":0,"c":"r"},{"x":0.486,"y":0,"c":"r"},{"x":0.508,"y":0,"c":"r"},{"x":0.526,"y":0,"c":"r"},{"x":0.543,"y":0,"c":"r"},{"x":0.561,"y":0,"c":"r"},{"x":0.648,"y":0,"c":"r"},{"x":0.787,"y":1,"c":"r"},
  {"x":0.407,"y":1,"c":"y"},{"x":0.489,"y":1,"c":"y"},{"x":0.58,"y":1,"c":"y"},{"x":0.451,"y":1,"c":"y"},
  {"x":0.452,"y":2,"c":"w"},{"x":0.47,"y":2,"c":"w"},{"x":0.485,"y":2,"c":"w"},{"x":0.499,"y":2,"c":"w"},{"x":0.619,"y":4,"c":"w"},{"x":0.657,"y":5,"c":"w"},{"x":0.709,"y":7,"c":"w"},
  {"x":0.433,"y":3,"c":"l"},{"x":0.555,"y":4,"c":"l"},
  {"x":0.436,"y":4,"c":"b"},{"x":0.499,"y":4,"c":"b"},{"x":0.511,"y":5,"c":"b"},{"x":0.539,"y":6,"c":"b"},{"x":0.578,"y":6,"c":"b"},
  {"x":0.506,"y":16,"c":"n"},{"x":0.451,"y":9,"c":"n"}
 ]
},
"vconcat": [
 {"width": 1134, "height": 6, "data": {"values": []}, "mark": "point", "view": {"fill": "#ffffff"}},
 {"width": 1134, "height": 2, "data": {"values": []}, "mark": "point", "view": {"fill": "#161616"}},
 {"hconcat": [
  {"width": 7, "height": 578, "data": {"values": []}, "mark": "point", "view": {"fill": "#ffffff"}},
  {"hconcat": [
   {"vconcat": [
    {"vconcat": [
     {"hconcat": [
      {"width": 41, "height": 24, "data": {"values": []}, "mark": "point", "view": {"fill": "#c8213b"}, "title": {"text": "← UP", "color": "#ffffff", "fontWeight": "bold", "fontSize": 11.5, "offset": -16.5}},
      {"width": 35, "height": 24, "data": {"values": []}, "mark": "point", "view": {"fill": "#000000"}, "title": {"text": "SET", "color": "#ffffff", "fontWeight": "bold", "fontSize": 11.5, "offset": -16.5}},
      {"width": 473, "height": 24, "data": {"values": []}, "mark": "point", "view": {"fill": "#6b6b6b"}, "title": {"text": "sb_sports", "dx": -38, "offset": -15.5}}
     ], "spacing": 0},
     {"width": 549, "height": 168, "view": {"fill": "#6b6b6b"},
      "encoding": {
       "x": {"field": "x", "type": "quantitative", "scale": {"domain": [0.3, 1.0], "range": [31, 533], "nice": false, "zero": false}, "axis": {"values": [0.3,0.35,0.4,0.45,0.5,0.55,0.6,0.65,0.7,0.75,0.8,0.85,0.9,0.95,1.0], "format": ".2f", "offset": -16.5}},
       "y": {"field": "y", "type": "quantitative", "scale": {"domain": [0, 50], "range": [151.5, 7], "nice": false, "zero": false}, "axis": {"values": [0,10,20,30,40,50], "format": "d", "offset": -31}}
      },
      "layer": [
       {"data": {"name": "line30"}, "mark": {"type": "line", "color": "#ffffff", "strokeWidth": 2, "clip": true}, "encoding": {}},
       {"data": {"name": "sports"}, "mark": {"type": "circle", "size": 36, "opacity": 1, "stroke": "#2b2b2b", "strokeWidth": 0.6}, "encoding": {"color": {"field": "c", "type": "nominal", "legend": null, "scale": {"domain": ["n","b","l","w","y","o","r","R","D"], "range": ["#1f1f7a","#3f78b8","#86bfe0","#ffffff","#fee796","#fdbd68","#f7944a","#e5482c","#a0001c"]}}}}
      ]
     }
    ], "spacing": 0},
    {"width": 549, "height": 140, "view": {"fill": "#6b6b6b"}, "title": {"text": "sb_disaster"},
     "encoding": {
      "x": {"field": "x", "type": "quantitative", "scale": {"domain": [0.3, 1.0], "range": [31, 534], "nice": false, "zero": false}, "axis": {"values": [0.3,0.35,0.4,0.45,0.5,0.55,0.6,0.65,0.7,0.75,0.8,0.85,0.9,0.95,1.0], "format": ".2f", "offset": -17}},
      "y": {"field": "y", "type": "quantitative", "scale": {"domain": [0, 60], "range": [123, 29.3], "nice": false, "zero": false}, "axis": {"values": [0,10,20,30,40,50,60], "format": "d", "offset": -31}}
     },
     "layer": [
      {"data": {"name": "line30"}, "mark": {"type": "line", "color": "#ffffff", "strokeWidth": 2, "clip": true}, "encoding": {}},
      {"data": {"name": "disaster"}, "mark": {"type": "circle", "size": 36, "opacity": 1, "stroke": "#2b2b2b", "strokeWidth": 0.6}, "encoding": {"color": {"field": "c", "type": "nominal", "legend": null, "scale": {"domain": ["n","b","l","w","y","o","r","R","D"], "range": ["#1f1f7a","#3f78b8","#86bfe0","#ffffff","#fee796","#fdbd68","#f7944a","#e5482c","#a0001c"]}}}}
     ]
    },
    {"width": 549, "height": 125, "view": {"fill": "#6b6b6b"}, "title": {"text": "sb_politics"},
     "encoding": {
      "x": {"field": "x", "type": "quantitative", "scale": {"domain": [0.4, 0.9], "range": [31, 534], "nice": false, "zero": false}, "axis": {"values": [0.4,0.45,0.5,0.55,0.6,0.65,0.7,0.75,0.8,0.85,0.9], "format": ".2f", "offset": -14.7}},
      "y": {"field": "y", "type": "quantitative", "scale": {"domain": [0, 13], "range": [110.3, 28.7], "nice": false, "zero": false}, "axis": {"values": [0,2,4,6,8,10,12,13], "labelExpr": "datum.value % 2 === 0 ? datum.label : ''", "offset": -31}}
     },
     "layer": [
      {"data": {"name": "line40"}, "mark": {"type": "line", "color": "#ffffff", "strokeWidth": 2, "clip": true}, "encoding": {}},
      {"data": {"name": "politics"}, "mark": {"type": "circle", "size": 36, "opacity": 1, "stroke": "#2b2b2b", "strokeWidth": 0.6}, "encoding": {"color": {"field": "c", "type": "nominal", "legend": null, "scale": {"domain": ["n","b","l","w","y","o","r","R","D"], "range": ["#1f1f7a","#3f78b8","#86bfe0","#ffffff","#fee796","#fdbd68","#f7944a","#e5482c","#a0001c"]}}}}
     ]
    },
    {"width": 549, "height": 115, "view": {"fill": "#6b6b6b"}, "title": {"text": "sb_crime"},
     "encoding": {
      "x": {"field": "x", "type": "quantitative", "scale": {"domain": [0.4, 0.9], "range": [31, 534], "nice": false, "zero": false}, "axis": {"values": [0.4,0.45,0.5,0.55,0.6,0.65,0.7,0.75,0.8,0.85,0.9], "format": ".2f", "offset": -15.5}},
      "y": {"field": "y", "type": "quantitative", "scale": {"domain": [0, 15], "range": [99.5, 35.3], "nice": false, "zero": false}, "axis": {"values": [0,5,10,15], "format": "d", "offset": -31}}
     },
     "layer": [
      {"data": {"name": "line40"}, "mark": {"type": "line", "color": "#ffffff", "strokeWidth": 2, "clip": true}, "encoding": {}},
      {"data": {"name": "crime"}, "mark": {"type": "circle", "size": 36, "opacity": 1, "stroke": "#2b2b2b", "strokeWidth": 0.6}, "encoding": {"color": {"field": "c", "type": "nominal", "legend": null, "scale": {"domain": ["n","b","l","w","y","o","r","R","D"], "range": ["#1f1f7a","#3f78b8","#86bfe0","#ffffff","#fee796","#fdbd68","#f7944a","#e5482c","#a0001c"]}}}}
     ]
    }
   ], "spacing": 2},
   {"vconcat": [
    {"hconcat": [
     {"width": 310, "height": 181, "view": {"fill": "#6b6b6b"}, "title": {"text": "sb_economy"},
      "encoding": {
       "x": {"field": "x", "type": "quantitative", "scale": {"domain": [0.4, 0.85], "range": [32.3, 294.7], "nice": false, "zero": false}, "axis": {"values": [0.4,0.45,0.5,0.55,0.6,0.65,0.7,0.75,0.8,0.85], "format": ".2f", "offset": -15}},
       "y": {"field": "y", "type": "quantitative", "scale": {"domain": [0, 18], "range": [166, 31.3], "nice": false, "zero": false}, "axis": {"values": [0,5,10,15,18], "labelExpr": "datum.value % 5 === 0 ? datum.label : ''", "offset": -32.3}}
      },
      "layer": [
       {"data": {"name": "line40"}, "mark": {"type": "line", "color": "#ffffff", "strokeWidth": 2, "clip": true}, "encoding": {}},
       {"data": {"name": "economy"}, "mark": {"type": "circle", "size": 36, "opacity": 1, "stroke": "#2b2b2b", "strokeWidth": 0.6}, "encoding": {"color": {"field": "c", "type": "nominal", "legend": null, "scale": {"domain": ["n","b","l","w","y","o","r","R","D"], "range": ["#1f1f7a","#3f78b8","#86bfe0","#ffffff","#fee796","#fdbd68","#f7944a","#e5482c","#a0001c"]}}}}
      ]
     },
     {"width": 264, "height": 181, "view": {"fill": "#6b6b6b"}, "title": {"text": "sb_anomaly"},
      "encoding": {
       "x": {"field": "x", "type": "quantitative", "scale": {"domain": [0.3, 0.8], "range": [31.7, 255], "nice": false, "zero": false}, "axis": {"values": [0.3,0.35,0.4,0.45,0.5,0.55,0.6,0.65,0.7,0.75,0.8], "format": ".2f", "offset": -15}},
       "y": {"field": "y", "type": "quantitative", "scale": {"domain": [0, 13], "range": [166, 31.3], "nice": false, "zero": false}, "axis": {"values": [0,2,4,6,8,10,12,13], "labelExpr": "datum.value % 2 === 0 ? datum.label : ''", "offset": -31.7}}
      },
      "layer": [
       {"data": {"name": "line30"}, "mark": {"type": "line", "color": "#ffffff", "strokeWidth": 2, "clip": true}, "encoding": {}},
       {"data": {"name": "anomaly"}, "mark": {"type": "circle", "size": 36, "opacity": 1, "stroke": "#2b2b2b", "strokeWidth": 0.6}, "encoding": {"color": {"field": "c", "type": "nominal", "legend": null, "scale": {"domain": ["n","b","l","w","y","o","r","R","D"], "range": ["#1f1f7a","#3f78b8","#86bfe0","#ffffff","#fee796","#fdbd68","#f7944a","#e5482c","#a0001c"]}}}}
      ]
     }
    ], "spacing": 2},
    {"hconcat": [
     {"width": 231, "height": 195, "view": {"fill": "#6b6b6b"}, "title": {"text": "sb_health"},
      "encoding": {
       "x": {"field": "x", "type": "quantitative", "scale": {"domain": [0.4, 1.0], "range": [31.3, 215.3], "nice": false, "zero": false}, "axis": {"values": [0.4,0.45,0.5,0.55,0.6,0.65,0.7,0.75,0.8,0.85,0.9,0.95,1.0], "format": ".2f", "offset": -15}},
       "y": {"field": "y", "type": "quantitative", "scale": {"domain": [0, 60], "range": [180, 31], "nice": false, "zero": false}, "axis": {"values": [0,10,20,30,40,50,60], "format": "d", "offset": -31.3}}
      },
      "layer": [
       {"data": {"name": "line40"}, "mark": {"type": "line", "color": "#ffffff", "strokeWidth": 2, "clip": true}, "encoding": {}},
       {"data": {"name": "health"}, "mark": {"type": "circle", "size": 36, "opacity": 1, "stroke": "#2b2b2b", "strokeWidth": 0.6}, "encoding": {"color": {"field": "c", "type": "nominal", "legend": null, "scale": {"domain": ["n","b","l","w","y","o","r","R","D"], "range": ["#1f1f7a","#3f78b8","#86bfe0","#ffffff","#fee796","#fdbd68","#f7944a","#e5482c","#a0001c"]}}}}
      ]
     },
     {"width": 207, "height": 195, "view": {"fill": "#6b6b6b"}, "title": {"text": "sb_entertainment"},
      "encoding": {
       "x": {"field": "x", "type": "quantitative", "scale": {"domain": [0.3, 0.85], "range": [31, 193], "nice": false, "zero": false}, "axis": {"values": [0.3,0.35,0.4,0.45,0.5,0.55,0.6,0.65,0.7,0.75,0.8,0.85], "format": ".2f", "offset": -15}},
       "y": {"field": "y", "type": "quantitative", "scale": {"domain": [0, 22], "range": [180, 30.7], "nice": false, "zero": false}, "axis": {"values": [0,5,10,15,20,22], "labelExpr": "datum.value % 5 === 0 ? datum.label : ''", "offset": -31}}
      },
      "layer": [
       {"data": {"name": "line30"}, "mark": {"type": "line", "color": "#ffffff", "strokeWidth": 2, "clip": true}, "encoding": {}},
       {"data": {"name": "entertainment"}, "mark": {"type": "circle", "size": 36, "opacity": 1, "stroke": "#2b2b2b", "strokeWidth": 0.6}, "encoding": {"color": {"field": "c", "type": "nominal", "legend": null, "scale": {"domain": ["n","b","l","w","y","o","r","R","D"], "range": ["#1f1f7a","#3f78b8","#86bfe0","#ffffff","#fee796","#fdbd68","#f7944a","#e5482c","#a0001c"]}}}}
      ]
     },
     {"width": 134, "height": 195, "data": {"values": []}, "mark": "point", "view": {"fill": "#6b6b6b"}, "title": {"text": "sb_science"}}
    ], "spacing": 2},
    {"hconcat": [
     {"vconcat": [
      {"width": 254, "height": 105, "view": {"fill": "#6b6b6b"}, "title": {"text": "sb_conflicts"},
       "encoding": {
        "x": {"field": "x", "type": "quantitative", "scale": {"domain": [0.4, 0.9], "range": [31.3, 240.3], "nice": false, "zero": false}, "axis": {"values": [0.4,0.45,0.5,0.55,0.6,0.65,0.7,0.75,0.8,0.85,0.9], "format": ".2f", "offset": -13.7}},
        "y": {"field": "y", "type": "quantitative", "scale": {"domain": [0, 12], "range": [91.3, 30.3], "nice": false, "zero": false}, "axis": {"values": [0,2,4,6,8,10,12], "format": "d", "offset": -31.3}}
       },
       "layer": [
        {"data": {"name": "line40"}, "mark": {"type": "line", "color": "#ffffff", "strokeWidth": 2, "clip": true}, "encoding": {}},
        {"data": {"name": "conflicts"}, "mark": {"type": "circle", "size": 36, "opacity": 1, "stroke": "#2b2b2b", "strokeWidth": 0.6}, "encoding": {"color": {"field": "c", "type": "nominal", "legend": null, "scale": {"domain": ["n","b","l","w","y","o","r","R","D"], "range": ["#1f1f7a","#3f78b8","#86bfe0","#ffffff","#fee796","#fdbd68","#f7944a","#e5482c","#a0001c"]}}}}
       ]
      },
      {"width": 254, "height": 91, "view": {"fill": "#6b6b6b"}, "title": {"text": "sb_society"},
       "encoding": {
        "x": {"field": "x", "type": "quantitative", "scale": {"domain": [0.4, 0.8], "range": [32.7, 249.3], "nice": false, "zero": false}, "axis": {"values": [0.4,0.45,0.5,0.55,0.6,0.65,0.7,0.75,0.8], "format": ".2f", "offset": -15.3}},
        "y": {"field": "y", "type": "quantitative", "scale": {"domain": [0, 13], "range": [75.7, 30.4], "nice": false, "zero": false}, "axis": {"values": [0,2,4,6,8,10,12,13], "labelExpr": "datum.value % 2 === 0 ? datum.label : ''", "offset": -32.7}}
       },
       "layer": [
        {"data": {"name": "line40"}, "mark": {"type": "line", "color": "#ffffff", "strokeWidth": 2, "clip": true}, "encoding": {}},
        {"data": {"name": "society"}, "mark": {"type": "circle", "size": 36, "opacity": 1, "stroke": "#2b2b2b", "strokeWidth": 0.6}, "encoding": {"color": {"field": "c", "type": "nominal", "legend": null, "scale": {"domain": ["n","b","l","w","y","o","r","R","D"], "range": ["#1f1f7a","#3f78b8","#86bfe0","#ffffff","#fee796","#fdbd68","#f7944a","#e5482c","#a0001c"]}}}}
       ]
      }
     ], "spacing": 2},
     {"vconcat": [
      {"hconcat": [
       {"width": 167, "height": 119, "view": {"fill": "#6b6b6b"}, "title": {"text": "sb_education"},
        "encoding": {
         "x": {"field": "x", "type": "quantitative", "scale": {"domain": [0.4, 1.0], "range": [33.7, 153], "nice": false, "zero": false}, "axis": {"values": [0.4,0.45,0.5,0.55,0.6,0.65,0.7,0.75,0.8,0.85,0.9,0.95,1.0], "format": ".2f", "offset": -14.3}},
         "y": {"field": "y", "type": "quantitative", "scale": {"domain": [0, 25], "range": [104.7, 33.3], "nice": false, "zero": false}, "axis": {"values": [0,5,10,15,20,25], "format": "d", "offset": -33.7}}
        },
        "layer": [
         {"data": {"name": "line40"}, "mark": {"type": "line", "color": "#ffffff", "strokeWidth": 2, "clip": true}, "encoding": {}},
         {"data": {"name": "education"}, "mark": {"type": "circle", "size": 36, "opacity": 1, "stroke": "#2b2b2b", "strokeWidth": 0.6}, "encoding": {"color": {"field": "c", "type": "nominal", "legend": null, "scale": {"domain": ["n","b","l","w","y","o","r","R","D"], "range": ["#1f1f7a","#3f78b8","#86bfe0","#ffffff","#fee796","#fdbd68","#f7944a","#e5482c","#a0001c"]}}}}
        ]
       },
       {"width": 151, "height": 119, "view": {"fill": "#6b6b6b"}, "title": {"text": "sb_lifestlye"},
        "encoding": {
         "x": {"field": "x", "type": "quantitative", "scale": {"domain": [0.4, 0.8], "range": [30, 142], "nice": false, "zero": false}, "axis": {"values": [0.4,0.45,0.5,0.55,0.6,0.65,0.7,0.75,0.8], "format": ".2f", "offset": -14.3}},
         "y": {"field": "y", "type": "quantitative", "scale": {"domain": [0, 16], "range": [104.7, 30], "nice": false, "zero": false}, "axis": {"values": [0,5,10,15,16], "labelExpr": "datum.value % 5 === 0 ? datum.label : ''", "offset": -30}}
        },
        "layer": [
         {"data": {"name": "line40"}, "mark": {"type": "line", "color": "#ffffff", "strokeWidth": 2, "clip": true}, "encoding": {}},
         {"data": {"name": "lifestyle"}, "mark": {"type": "circle", "size": 36, "opacity": 1, "stroke": "#2b2b2b", "strokeWidth": 0.6}, "encoding": {"color": {"field": "c", "type": "nominal", "legend": null, "scale": {"domain": ["n","b","l","w","y","o","r","R","D"], "range": ["#1f1f7a","#3f78b8","#86bfe0","#ffffff","#fee796","#fdbd68","#f7944a","#e5482c","#a0001c"]}}}}
        ]
       }
      ], "spacing": 2},
      {"hconcat": [
       {"width": 141, "height": 77, "data": {"values": []}, "mark": "point", "view": {"fill": "#6b6b6b"}, "title": {"text": "sb_religion"}},
       {"vconcat": [
        {"width": 126, "height": 46, "data": {"values": []}, "mark": "point", "view": {"fill": "#6b6b6b"}, "title": {"text": "sb_labour"}},
        {"width": 126, "height": 29, "data": {"values": []}, "mark": "point", "view": {"fill": "#6b6b6b"}, "title": {"text": "sb_environment", "offset": -13}}
       ], "spacing": 2},
       {"vconcat": [
        {"width": 49, "height": 34, "data": {"values": []}, "mark": "point", "view": {"fill": "#6b6b6b"}, "title": {"text": "sb_mowa", "anchor": "start", "dx": 1, "fontSize": 11, "offset": -13}},
        {"width": 49, "height": 25, "data": {"values": []}, "mark": "point", "view": {"fill": "#6b6b6b"}, "title": {"text": "sb_huma", "anchor": "start", "dx": 1, "fontSize": 11, "offset": -13}},
        {"hconcat": [
         {"width": 38, "height": 14, "data": {"values": []}, "mark": "point", "view": {"fill": "#6b6b6b"}, "title": {"text": "sb_wea", "anchor": "start", "dx": 0, "fontSize": 10.5, "offset": -12.5}},
         {"width": 9, "height": 14, "data": {"values": []}, "mark": "point", "view": {"fill": "#6b6b6b"}}
        ], "spacing": 2}
       ], "spacing": 2}
      ], "spacing": 2}
     ], "spacing": 2}
    ], "spacing": 2}
   ], "spacing": 2}
  ], "spacing": 2}
 ], "spacing": 0}
], "spacing": 0
}
